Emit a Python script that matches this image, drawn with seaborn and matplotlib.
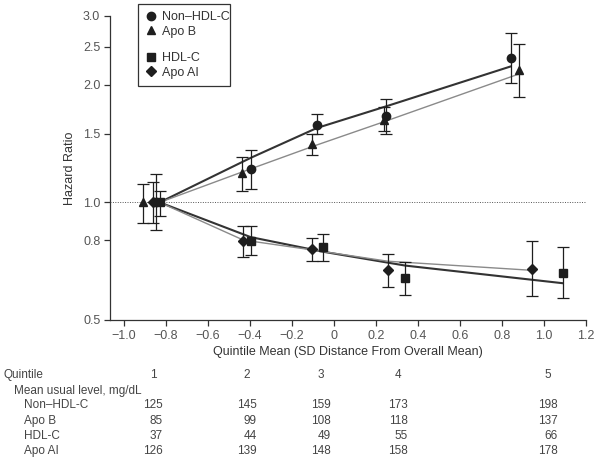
## arrays and tables
import numpy as np
import pandas as pd
## visualisation
import matplotlib
matplotlib.use('Agg')
from matplotlib import pyplot as plt
from matplotlib.lines import Line2D
from matplotlib.patches import Rectangle
from matplotlib.ticker import FixedLocator, FixedFormatter, NullLocator
import seaborn as sns

## hazard ratios (x = quintile mean, SD from overall mean)
nonhdl_x = [-0.85, -0.397, -0.082, 0.246, 0.843]
nonhdl_hr = [1.00, 1.215, 1.578, 1.664, 2.337]
nonhdl_lo = [0.85, 1.080, 1.499, 1.499, 2.017]
nonhdl_hi = [1.18, 1.364, 1.686, 1.836, 2.718]
nonhdl_fit_x = [-0.83, -0.397, -0.082, 0.246, 0.843]
nonhdl_fit = [1.00, 1.30, 1.55, 1.76, 2.23]

apob_x = [-0.91, -0.44, -0.103, 0.24, 0.879]
apob_hr = [1.00, 1.187, 1.408, 1.63, 2.182]
apob_lo = [0.887, 1.069, 1.32, 1.52, 1.861]
apob_hi = [1.115, 1.304, 1.493, 1.75, 2.538]
apob_fit_x = [-0.83, -0.44, -0.103, 0.24, 0.879]
apob_fit = [1.00, 1.195, 1.39, 1.61, 2.13]

hdl_x = [-0.83, -0.397, -0.054, 0.34, 1.09]
hdl_hr = [1.00, 0.798, 0.767, 0.639, 0.661]
hdl_lo = [0.923, 0.733, 0.709, 0.580, 0.569]
hdl_hi = [1.071, 0.871, 0.828, 0.702, 0.770]
hdl_fit_x = [-0.83, -0.397, -0.054, 0.34, 1.09]
hdl_fit = [1.00, 0.815, 0.748, 0.689, 0.621]

apoai_x = [-0.86, -0.432, -0.106, 0.256, 0.944]
apoai_hr = [1.00, 0.798, 0.758, 0.671, 0.675]
apoai_lo = [0.887, 0.725, 0.709, 0.608, 0.575]
apoai_hi = [1.128, 0.871, 0.809, 0.736, 0.798]
apoai_fit_x = [-0.83, -0.432, -0.106, 0.256, 0.944]
apoai_fit = [1.00, 0.801, 0.756, 0.707, 0.670]

## table under the plot
quintile_labels = ['1', '2', '3', '4', '5']
nonhdl_level = [125, 145, 159, 173, 198]
apob_level = [85, 99, 108, 118, 137]
hdl_level = [37, 44, 49, 55, 66]
apoai_level = [126, 139, 148, 158, 178]

y_ticks = [0.5, 0.8, 1.0, 1.5, 2.0, 2.5, 3.0]
x_ticks = [-1.0, -0.8, -0.6, -0.4, -0.2, 0, 0.2, 0.4, 0.6, 0.8, 1.0, 1.2]
x_ticklabels = ['\u22121.0', '\u22120.8', '\u22120.6', '\u22120.4', '\u22120.2', '0',
                '0.2', '0.4', '0.6', '0.8', '1.0', '1.2']

names = ['Non\u2013HDL-C', 'Apo B', 'HDL-C', 'Apo AI']
pts = pd.concat([
    pd.DataFrame(dict(series=n, x=x, hr=hr, lo=lo, hi=hi))
    for n, x, hr, lo, hi in zip(
        names,
        [nonhdl_x, apob_x, hdl_x, apoai_x],
        [nonhdl_hr, apob_hr, hdl_hr, apoai_hr],
        [nonhdl_lo, apob_lo, hdl_lo, apoai_lo],
        [nonhdl_hi, apob_hi, hdl_hi, apoai_hi],
    )
], ignore_index=True)
fits = pd.concat([
    pd.DataFrame(dict(series=n, x=x, fit=f))
    for n, x, f in zip(
        names,
        [nonhdl_fit_x, apob_fit_x, hdl_fit_x, apoai_fit_x],
        [nonhdl_fit, apob_fit, hdl_fit, apoai_fit],
    )
], ignore_index=True)

sns.set_style('ticks')
plt.rcParams['font.family'] = ['Liberation Sans', 'DejaVu Sans']

markers = {names[0]: 'o', names[1]: '^', names[2]: 's', names[3]: 'D'}
msize = {names[0]: 6.0, names[1]: 6.0, names[2]: 6.0, names[3]: 5.0}
line_col = {names[0]: '#333333', names[1]: '#8a8a8a', names[2]: '#333333', names[3]: '#8a8a8a'}
line_w = {names[0]: 1.5, names[1]: 1.0, names[2]: 1.5, names[3]: 1.0}
ink = '#1e1e1e'
grey = '#555555'

fig = plt.figure(figsize=(6.0, 4.61), dpi=100)
ax = fig.add_axes([110 / 600, 1 - 320 / 461, 476 / 600, 304 / 461])
ax.set_yscale('log')

ax.axhline(1.0, color='#555555', lw=0.7, ls=(0, (1, 1.5)), zorder=1)

sns.lineplot(
    data=fits, x='x', y='fit', hue='series', size='series',
    palette=line_col, sizes=line_w, sort=False, legend=False,
    ax=ax, zorder=2,
)
for n in names:
    s = pts[pts.series == n]
    ax.errorbar(
        s.x, s.hr, yerr=[s.hr - s.lo, s.hi - s.hr], fmt='none',
        ecolor=ink, elinewidth=0.9, capsize=4.5, capthick=0.9, zorder=3,
    )
    ax.plot(s.x, s.hr, ls='none', marker=markers[n], ms=msize[n],
            color=ink, mec=ink, zorder=4)

ax.set_xlim(-1.0 - 14 / 210, 1.2)
ax.set_ylim(0.5, 3.0)
ax.yaxis.set_major_locator(FixedLocator(y_ticks))
ax.yaxis.set_major_formatter(FixedFormatter(['%.1f' % v for v in y_ticks]))
ax.yaxis.set_minor_locator(NullLocator())
ax.set_xticks(x_ticks)
ax.set_xticklabels(x_ticklabels)
ax.tick_params(axis='both', length=4, width=0.9, color='#333333',
               labelsize=9, labelcolor=grey, pad=3)
for sp in ['left', 'bottom']:
    ax.spines[sp].set_linewidth(0.9)
    ax.spines[sp].set_color('#333333')
sns.despine(ax=ax)

ax.set_xlabel('Quintile Mean (SD Distance From Overall Mean)', fontsize=9,
              color='#333333', labelpad=3)
ax.set_ylabel('Hazard Ratio', fontsize=9, color='#333333', labelpad=5)

## legend in two groups with one frame around them
handles = [Line2D([], [], ls='none', marker=markers[n], ms=msize[n], color=ink)
           for n in names]
kw = dict(frameon=False, fontsize=9, borderpad=0, borderaxespad=0,
          handlelength=1.0, handletextpad=0.35, labelspacing=0.2,
          loc='center left', labelcolor='#333333')
leg1 = ax.legend(handles[:2], names[:2], bbox_to_anchor=(0.073, 0.972), **kw)
ax.add_artist(leg1)
leg2 = ax.legend(handles[2:], names[2:], bbox_to_anchor=(0.073, 0.837), **kw)
for lg in (leg1, leg2):
    lg.set_clip_on(False)
ax.add_patch(Rectangle((28 / 476, (320 - 86) / 304), 92 / 476, 82 / 304,
                       transform=ax.transAxes, fill=False, lw=0.9,
                       ec='#333333', clip_on=False, zorder=5))

## table
row_y = [375, 390.7, 405, 421, 436, 450.7]
col_right = [163, 257, 331, 408, 558]
tk = dict(fontsize=8.5, color='#444444', va='center')
fig.text(3 / 600, 1 - row_y[0] / 461, 'Quintile', ha='left', **tk)
fig.text(14 / 600, 1 - row_y[1] / 461, 'Mean usual level, mg/dL', ha='left', **tk)
for c, q in zip(col_right, quintile_labels):
    fig.text((c - 10) / 600, 1 - row_y[0] / 461, q, ha='center', **tk)
for r, n, vals in zip(row_y[2:], names,
                      [nonhdl_level, apob_level, hdl_level, apoai_level]):
    fig.text(24 / 600, 1 - r / 461, n, ha='left', **tk)
    for c, v in zip(col_right, vals):
        fig.text(c / 600, 1 - r / 461, str(v), ha='right', **tk)

fig.savefig('out.png', dpi=100)
